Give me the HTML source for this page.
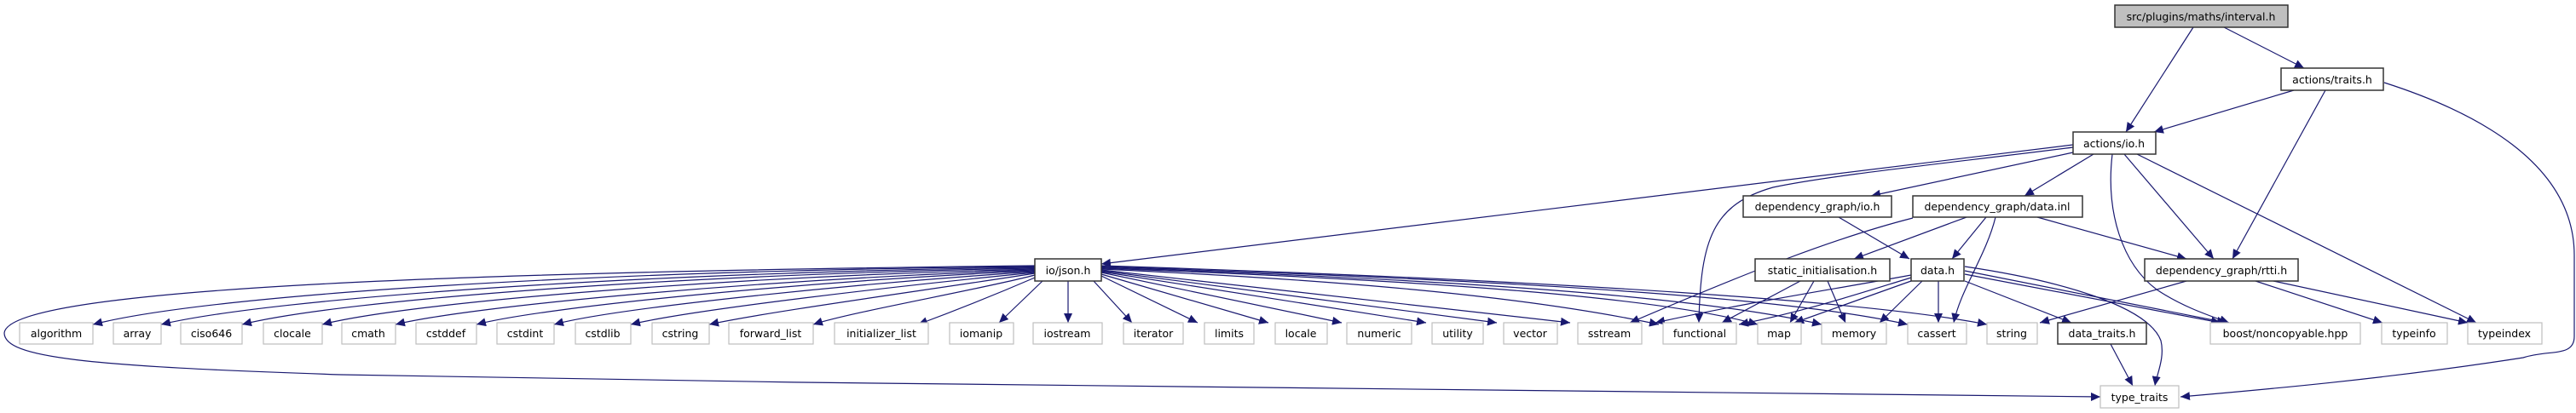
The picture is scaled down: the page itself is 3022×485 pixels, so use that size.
<!DOCTYPE html>
<html><head><meta charset="utf-8"><style>
html,body{margin:0;padding:0;background:#fff;}
svg{display:block;}
text{font-family:"DejaVu Sans","Liberation Sans",sans-serif;font-size:12.5px;fill:#000;text-anchor:middle;}
.g{fill:#fff;stroke:#bfbfbf;stroke-width:1.2;}
.b{fill:#fff;stroke:#333;stroke-width:1.5;}
.e{fill:none;stroke:#191970;stroke-width:1.2;}
</style></head><body>
<svg width="3022" height="485" viewBox="0 0 3022 485" xmlns="http://www.w3.org/2000/svg">
<defs><marker id="a" markerUnits="userSpaceOnUse" markerWidth="12" markerHeight="10" refX="11" refY="5" orient="auto"><path d="M0,0 L11,5 L0,10 Z" fill="#191970"/></marker></defs>
<g class="e" marker-end="url(#a)">
<path d="M2573,32 L2494,155"/>
<path d="M2609,32 L2703,80"/>
<path d="M2691,106 L2527,155"/>
<path d="M2728,106 L2619,304"/>
<path d="M2797,97 C2900,130 3020,190 3020,300 L3020,395 C3020,420 2990,410 2960,420 C2800,445 2650,458 2558,466"/>
<path d="M2432,170 L1292,310"/>
<path d="M2432,173 C2300,190 2150,205 2080,220 C2010,240 1995,280 1993,379"/>
<path d="M2432,179 L2195,230"/>
<path d="M2456,181 L2375,230"/>
<path d="M2492,181 L2597,304"/>
<path d="M2507,181 L2905,379"/>
<path d="M2478,181 C2470,250 2490,310 2530,340 C2560,360 2590,370 2615,379"/>
<path d="M2157,255 L2240,304"/>
<path d="M2307,255 L2175,304"/>
<path d="M2330,255 L2290,304"/>
<path d="M2341,255 C2330,300 2300,340 2292,379"/>
<path d="M2390,255 L2565,304"/>
<path d="M2244,256 C2150,280 2050,320 1912,379"/>
<path d="M2112,330 L2020,379"/>
<path d="M2128,330 L2100,379"/>
<path d="M2144,330 L2165,379"/>
<path d="M2242,323 C2150,340 2050,355 1942,379"/>
<path d="M2242,326 C2180,345 2120,365 2040,381"/>
<path d="M2242,330 L2105,379"/>
<path d="M2255,330 L2205,379"/>
<path d="M2274,330 L2274,379"/>
<path d="M2305,330 L2430,379"/>
<path d="M2305,318 L2612,379"/>
<path d="M2305,322 L2605,379"/>
<path d="M2305,313 C2420,330 2520,360 2535,400 C2540,420 2530,440 2528,453"/>
<path d="M2565,330 L2393,379"/>
<path d="M2646,330 L2795,379"/>
<path d="M2667,330 L2895,379"/>
<path d="M2476,404 L2502,453"/>
<path d="M1214,313 C700,318 250,345 109,381"/>
<path d="M1214,314 C750,320 320,350 189,381"/>
<path d="M1214,315 C800,322 400,352 284,381"/>
<path d="M1214,316 C850,325 480,355 378,381"/>
<path d="M1214,317 C900,328 560,358 464,381"/>
<path d="M1214,318 C950,330 640,360 559,381"/>
<path d="M1214,319 C1000,333 720,362 650,381"/>
<path d="M1214,320 C1050,336 810,364 740,381"/>
<path d="M1214,321 C1100,339 900,366 832,381"/>
<path d="M1214,323 C1150,340 1000,366 954,381"/>
<path d="M1214,326 C1170,345 1120,365 1077,381"/>
<path d="M1223,330 L1172,379"/>
<path d="M1253,330 L1253,379"/>
<path d="M1283,330 L1328,379"/>
<path d="M1292,324 L1405,379"/>
<path d="M1292,322 L1488,379"/>
<path d="M1292,320 L1574,379"/>
<path d="M1292,319 L1673,379"/>
<path d="M1292,318 L1756,379"/>
<path d="M1292,317 L1842,379"/>
<path d="M1292,316 C1600,330 1800,350 1946,381"/>
<path d="M1292,315 C1700,330 1950,350 2062,381"/>
<path d="M1292,314 C1750,330 2000,350 2137,381"/>
<path d="M1292,313 C1800,330 2100,350 2238,381"/>
<path d="M1292,312 C1850,330 2200,355 2331,381"/>
<path d="M1214,312 C500,320 10,340 5,391 C5,420 100,430 400,440 C1200,455 2200,465 2464,466"/>
</g>
<rect x="2481" y="6" width="203" height="26" fill="#bfbfbf" stroke="#333" stroke-width="1.5"/><text x="2582" y="24">src/plugins/maths/interval.h</text>
<rect class="b" x="2676" y="80" width="120" height="26"/><text x="2736" y="98">actions/traits.h</text>
<rect class="b" x="2432" y="155" width="97" height="26"/><text x="2480" y="173">actions/io.h</text>
<rect class="b" x="2045" y="230" width="174" height="25"/><text x="2132" y="247">dependency_graph/io.h</text>
<rect class="b" x="2244" y="230" width="199" height="25"/><text x="2343" y="247">dependency_graph/data.inl</text>
<rect class="b" x="2059" y="304" width="158" height="26"/><text x="2138" y="322">static_initialisation.h</text>
<rect class="b" x="2242" y="304" width="62" height="26"/><text x="2273" y="322">data.h</text>
<rect class="b" x="2516" y="304" width="180" height="26"/><text x="2606" y="322">dependency_graph/rtti.h</text>
<rect class="b" x="1214" y="304" width="78" height="26"/><text x="1253" y="322">io/json.h</text>
<g>
<rect class="g" x="23" y="379" width="86" height="25"/><text x="66" y="396">algorithm</text>
<rect class="g" x="133" y="379" width="56" height="25"/><text x="161" y="396">array</text>
<rect class="g" x="212" y="379" width="72" height="25"/><text x="248" y="396">ciso646</text>
<rect class="g" x="309" y="379" width="69" height="25"/><text x="343" y="396">clocale</text>
<rect class="g" x="401" y="379" width="63" height="25"/><text x="432" y="396">cmath</text>
<rect class="g" x="488" y="379" width="71" height="25"/><text x="523" y="396">cstddef</text>
<rect class="g" x="583" y="379" width="67" height="25"/><text x="616" y="396">cstdint</text>
<rect class="g" x="675" y="379" width="65" height="25"/><text x="707" y="396">cstdlib</text>
<rect class="g" x="765" y="379" width="67" height="25"/><text x="798" y="396">cstring</text>
<rect class="g" x="855" y="379" width="99" height="25"/><text x="904" y="396">forward_list</text>
<rect class="g" x="979" y="379" width="110" height="25"/><text x="1034" y="396">initializer_list</text>
<rect class="g" x="1114" y="379" width="75" height="25"/><text x="1151" y="396">iomanip</text>
<rect class="g" x="1212" y="379" width="81" height="25"/><text x="1252" y="396">iostream</text>
<rect class="g" x="1318" y="379" width="70" height="25"/><text x="1353" y="396">iterator</text>
<rect class="g" x="1413" y="379" width="58" height="25"/><text x="1442" y="396">limits</text>
<rect class="g" x="1496" y="379" width="61" height="25"/><text x="1526" y="396">locale</text>
<rect class="g" x="1580" y="379" width="76" height="25"/><text x="1618" y="396">numeric</text>
<rect class="g" x="1680" y="379" width="60" height="25"/><text x="1710" y="396">utility</text>
<rect class="g" x="1764" y="379" width="63" height="25"/><text x="1795" y="396">vector</text>
<rect class="g" x="1851" y="379" width="75" height="25"/><text x="1888" y="396">sstream</text>
<rect class="g" x="1951" y="379" width="86" height="25"/><text x="1994" y="396">functional</text>
<rect class="g" x="2062" y="379" width="51" height="25"/><text x="2087" y="396">map</text>
<rect class="g" x="2137" y="379" width="76" height="25"/><text x="2175" y="396">memory</text>
<rect class="g" x="2238" y="379" width="69" height="25"/><text x="2272" y="396">cassert</text>
<rect class="g" x="2331" y="379" width="59" height="25"/><text x="2360" y="396">string</text>
<rect class="b" x="2414" y="379" width="104" height="25"/><text x="2466" y="396">data_traits.h</text>
<rect class="g" x="2593" y="379" width="176" height="25"/><text x="2681" y="396">boost/noncopyable.hpp</text>
<rect class="g" x="2794" y="379" width="77" height="25"/><text x="2832" y="396">typeinfo</text>
<rect class="g" x="2895" y="379" width="87" height="25"/><text x="2938" y="396">typeindex</text>
<rect class="g" x="2464" y="453" width="92" height="26"/><text x="2510" y="471">type_traits</text>
</g>
</svg>
</body></html>
